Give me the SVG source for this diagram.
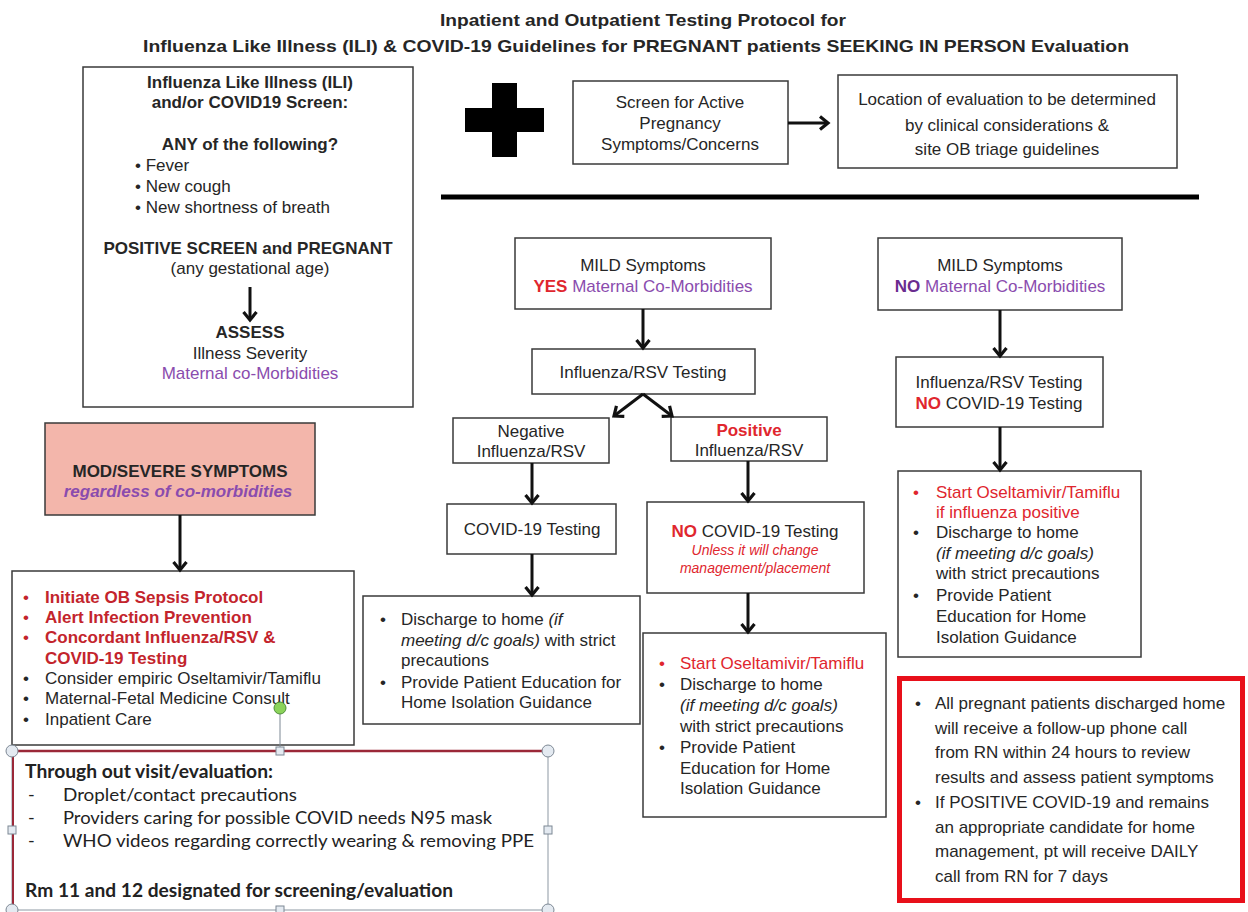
<svg xmlns="http://www.w3.org/2000/svg" width="1248" height="912" viewBox="0 0 1248 912">
<defs>
<style>
.box{fill:#fff;stroke:#3a3a3a;stroke-width:1.5}
.t{font-family:"Liberation Sans",Arial,sans-serif;font-size:17px;fill:#262626}
.b{font-weight:bold}
.i{font-style:italic}
.c{text-anchor:middle}
.pur{fill:#8a4cae}
.dpur{fill:#6a2c8f}
.red{fill:#e0262e}
.dred{fill:#c3242c}
.sm{font-size:14px}
.cal{font-family:Lato,"Open Sans",sans-serif;font-size:18px;fill:#222}
.arr{stroke:#111;stroke-width:3;fill:none;marker-end:url(#ah)}
.hc{fill:#e4eaf1;stroke:#7d8894;stroke-width:1}
</style>
<marker id="ah" markerUnits="userSpaceOnUse" markerWidth="20" markerHeight="20" refX="9" refY="7" orient="auto" overflow="visible">
<path d="M1,0.5 L9,7 L1,13.5" fill="none" stroke="#111" stroke-width="3.2"/>
</marker>
</defs>
<rect width="1248" height="912" fill="#fff"/>

<g id="title">
<text class="t b c" x="643" y="26" font-size="18" textLength="406" lengthAdjust="spacingAndGlyphs">Inpatient and Outpatient Testing Protocol for</text>
<text class="t b c" x="636" y="52" font-size="18" textLength="986" lengthAdjust="spacingAndGlyphs">Influenza Like Illness (ILI) &amp; COVID-19 Guidelines for PREGNANT patients SEEKING IN PERSON Evaluation</text>
</g>

<g id="screen-ili">
<rect class="box" x="83" y="67" width="330" height="340"/>
<text class="t b c" x="250" y="88">Influenza Like Illness (ILI)</text>
<text class="t b c" x="250" y="108">and/or COVID19 Screen:</text>
<text class="t b c" x="250" y="150">ANY of the following?</text>
<text class="t" x="135" y="171">• Fever</text>
<text class="t" x="135" y="192">• New cough</text>
<text class="t" x="135" y="213">• New shortness of breath</text>
<text class="t b c" x="248" y="254">POSITIVE SCREEN and PREGNANT</text>
<text class="t c" x="250" y="274">(any gestational age)</text>
<text class="t b c" x="250" y="338">ASSESS</text>
<text class="t c" x="250" y="359">Illness Severity</text>
<text class="t c pur" x="250" y="379">Maternal co-Morbidities</text>
</g>

<g id="plus">
<rect x="465" y="108" width="79" height="24" fill="#000"/>
<rect x="492" y="83" width="25" height="74" fill="#000"/>
</g>

<g id="screen-pregnancy">
<rect class="box" x="573" y="81" width="215" height="83"/>
<text class="t c" x="680" y="108">Screen for Active</text>
<text class="t c" x="680" y="129">Pregnancy</text>
<text class="t c" x="680" y="150">Symptoms/Concerns</text>
</g>

<g id="location">
<rect class="box" x="838" y="75" width="339" height="93"/>
<text class="t c" x="1007" y="105">Location of evaluation to be determined</text>
<text class="t c" x="1007" y="131">by clinical considerations &amp;</text>
<text class="t c" x="1007" y="155">site OB triage guidelines</text>
</g>

<g id="divider">
<line x1="441" y1="197" x2="1199" y2="197" stroke="#000" stroke-width="5"/>
</g>

<g id="mild-yes">
<rect class="box" x="515" y="238" width="256" height="71"/>
<text class="t c" x="643" y="271">MILD Symptoms</text>
<text class="t c" x="643" y="292"><tspan class="b red">YES</tspan><tspan class="pur"> Maternal Co-Morbidities</tspan></text>
</g>

<g id="flu-test">
<rect class="box" x="532" y="349" width="223" height="45"/>
<text class="t c" x="643" y="378">Influenza/RSV Testing</text>
</g>

<g id="negative">
<rect class="box" x="453" y="418" width="156" height="45"/>
<text class="t c" x="531" y="437">Negative</text>
<text class="t c" x="531" y="457">Influenza/RSV</text>
</g>

<g id="positive">
<rect class="box" x="671" y="417" width="156" height="44"/>
<text class="t b c red" x="749" y="436">Positive</text>
<text class="t c" x="749" y="456">Influenza/RSV</text>
</g>

<g id="covid-test">
<rect class="box" x="447" y="504" width="169" height="50"/>
<text class="t c" x="532" y="535">COVID-19 Testing</text>
</g>

<g id="discharge-neg">
<rect class="box" x="363" y="596" width="277" height="128"/>
<text class="t" x="380" y="625">•</text>
<text class="t" x="401" y="625">Discharge to home  <tspan class="i">(if</tspan></text>
<text class="t" x="401" y="646"><tspan class="i">meeting d/c goals)</tspan> with strict</text>
<text class="t" x="401" y="666">precautions</text>
<text class="t" x="380" y="688">•</text>
<text class="t" x="401" y="688">Provide Patient Education for</text>
<text class="t" x="401" y="708">Home Isolation Guidance</text>
</g>

<g id="no-covid">
<rect class="box" x="647" y="502" width="217" height="91"/>
<text class="t c" x="755" y="537"><tspan class="b red">NO</tspan> COVID-19 Testing</text>
<text class="t c i red sm" x="755" y="555">Unless it will change</text>
<text class="t c i red sm" x="755" y="573">management/placement</text>
</g>

<g id="start-pos">
<rect class="box" x="643" y="633" width="243" height="184"/>
<text class="t red" x="659" y="669">•</text>
<text class="t red" x="680" y="669">Start Oseltamivir/Tamiflu</text>
<text class="t" x="659" y="690">•</text>
<text class="t" x="680" y="690">Discharge to home</text>
<text class="t i" x="680" y="711">(if meeting d/c goals)</text>
<text class="t" x="680" y="732">with strict precautions</text>
<text class="t" x="659" y="753">•</text>
<text class="t" x="680" y="753">Provide Patient</text>
<text class="t" x="680" y="774">Education for Home</text>
<text class="t" x="680" y="794">Isolation Guidance</text>
</g>

<g id="mild-no">
<rect class="box" x="878" y="238" width="244" height="72"/>
<text class="t c" x="1000" y="271">MILD Symptoms</text>
<text class="t c" x="1000" y="292"><tspan class="b dpur">NO</tspan><tspan class="pur"> Maternal Co-Morbidities</tspan></text>
</g>

<g id="flu-no-covid">
<rect class="box" x="896" y="357" width="207" height="70"/>
<text class="t c" x="999" y="388">Influenza/RSV Testing</text>
<text class="t c" x="999" y="409"><tspan class="b red">NO</tspan> COVID-19 Testing</text>
</g>

<g id="start-no">
<rect class="box" x="898" y="471" width="243" height="186"/>
<text class="t red" x="913" y="498">•</text>
<text class="t red" x="936" y="498">Start Oseltamivir/Tamiflu</text>
<text class="t red" x="936" y="518">if influenza positive</text>
<text class="t" x="913" y="538">•</text>
<text class="t" x="936" y="538">Discharge to home</text>
<text class="t i" x="936" y="559">(if meeting d/c goals)</text>
<text class="t" x="936" y="579">with strict precautions</text>
<text class="t" x="913" y="601">•</text>
<text class="t" x="936" y="601">Provide Patient</text>
<text class="t" x="936" y="622">Education for Home</text>
<text class="t" x="936" y="643">Isolation Guidance</text>
</g>

<g id="followup">
<rect x="899.5" y="678.5" width="343" height="222" fill="#fff" stroke="#e8101a" stroke-width="5"/>
<text class="t" x="915" y="709">•</text>
<text class="t" x="935" y="709">All pregnant patients discharged home</text>
<text class="t" x="935" y="734">will receive a follow-up phone call</text>
<text class="t" x="935" y="758">from RN within 24 hours to review</text>
<text class="t" x="935" y="783">results and assess patient symptoms</text>
<text class="t" x="915" y="808">•</text>
<text class="t" x="935" y="808">If POSITIVE COVID-19 and remains</text>
<text class="t" x="935" y="833">an appropriate candidate for home</text>
<text class="t" x="935" y="857">management, pt will receive DAILY</text>
<text class="t" x="935" y="882">call from RN for 7 days</text>
</g>

<g id="mod-severe">
<rect x="45" y="423" width="270" height="92" fill="#f3b6ab" stroke="#3a3a3a" stroke-width="1.5"/>
<text class="t b c" x="180" y="477">MOD/SEVERE SYMPTOMS</text>
<text class="t b i c pur" x="178" y="497">regardless of co-morbidities</text>
</g>

<g id="inpatient">
<rect class="box" x="12" y="571" width="342" height="174"/>
<text class="t dred" x="23" y="603">•</text>
<text class="t b dred" x="45" y="603">Initiate OB Sepsis Protocol</text>
<text class="t dred" x="23" y="623">•</text>
<text class="t b dred" x="45" y="623">Alert Infection Prevention</text>
<text class="t dred" x="23" y="643">•</text>
<text class="t b dred" x="45" y="643">Concordant Influenza/RSV &amp;</text>
<text class="t b dred" x="45" y="664">COVID-19 Testing</text>
<text class="t" x="23" y="684">•</text>
<text class="t" x="45" y="684">Consider empiric Oseltamivir/Tamiflu</text>
<text class="t" x="23" y="704">•</text>
<text class="t" x="45" y="704">Maternal-Fetal Medicine Consult</text>
<text class="t" x="23" y="725">•</text>
<text class="t" x="45" y="725">Inpatient Care</text>
</g>

<g id="precautions-panel">
<rect x="12" y="751" width="536" height="159" fill="#fff" stroke="#8d98a3" stroke-width="1"/>
<line x1="12" y1="751" x2="548" y2="751" stroke="#9b2838" stroke-width="2.5"/>
<line x1="13" y1="751" x2="13" y2="910" stroke="#9b2838" stroke-width="2"/>
<text class="cal b" x="25" y="778" textLength="248" lengthAdjust="spacingAndGlyphs">Through out visit/evaluation:</text>
<text class="cal" x="28" y="801">-</text>
<text class="cal" x="63" y="801" textLength="234" lengthAdjust="spacingAndGlyphs">Droplet/contact precautions</text>
<text class="cal" x="28" y="824">-</text>
<text class="cal" x="63" y="824" textLength="429" lengthAdjust="spacingAndGlyphs">Providers caring for possible COVID needs N95 mask</text>
<text class="cal" x="28" y="847">-</text>
<text class="cal" x="63" y="847" textLength="471" lengthAdjust="spacingAndGlyphs">WHO videos regarding correctly wearing &amp; removing PPE</text>
<text class="cal b" x="25" y="897" textLength="428" lengthAdjust="spacingAndGlyphs">Rm 11 and 12 designated for screening/evaluation</text>
<line x1="280" y1="714" x2="280" y2="748" stroke="#7d8894" stroke-width="1"/>
<circle cx="280" cy="708" r="6" fill="#8bd35a" stroke="#4f8f3a" stroke-width="1"/>
<circle class="hc" cx="12" cy="751" r="6"/>
<circle class="hc" cx="548" cy="751" r="6"/>
<circle class="hc" cx="12" cy="910" r="6"/>
<circle class="hc" cx="548" cy="910" r="6"/>
<rect class="hc" x="276" y="747" width="8" height="8"/>
<rect class="hc" x="276" y="906" width="8" height="8"/>
<rect class="hc" x="8" y="826" width="8" height="8"/>
<rect class="hc" x="544" y="826" width="8" height="8"/>
</g>

<g id="connectors">
<line class="arr" x1="250" y1="287" x2="250" y2="320"/>
<line class="arr" x1="788" y1="123" x2="828" y2="123"/>
<line class="arr" x1="643" y1="309" x2="643" y2="348"/>
<line class="arr" x1="643" y1="394" x2="614" y2="416"/>
<line class="arr" x1="643" y1="394" x2="672" y2="416"/>
<line class="arr" x1="532" y1="463" x2="532" y2="503"/>
<line class="arr" x1="532" y1="554" x2="532" y2="595"/>
<line class="arr" x1="748" y1="461" x2="748" y2="501"/>
<line class="arr" x1="748" y1="593" x2="748" y2="632"/>
<line class="arr" x1="1000" y1="310" x2="1000" y2="356"/>
<line class="arr" x1="1000" y1="427" x2="1000" y2="470"/>
<line class="arr" x1="180" y1="515" x2="180" y2="570"/>
</g>
</svg>
